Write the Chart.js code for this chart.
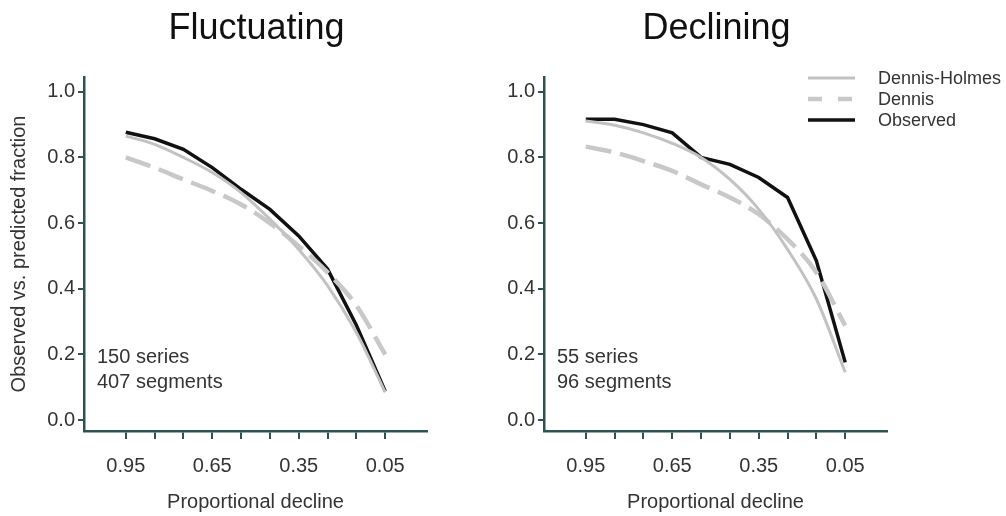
<!DOCTYPE html>
<html>
<head>
<meta charset="utf-8">
<script src="https://cdn.jsdelivr.net/npm/chart.js@4/dist/chart.umd.min.js"></script>
<style>
  body { margin: 0; background: #fff; }
  #wrap { position: relative; width: 1006px; height: 516px; }
  #leftBox { position: absolute; left: 0; top: 0; width: 470px; height: 516px; }
  #rightBox { position: absolute; left: 470px; top: 0; width: 536px; height: 516px; }
</style>
</head>
<body>
<div id="wrap">
  <div id="leftBox"><canvas id="fluctChart"></canvas></div>
  <div id="rightBox"><canvas id="declChart"></canvas></div>
</div>
<script>
// data
var declines = [0.95, 0.85, 0.75, 0.65, 0.55, 0.45, 0.35, 0.25, 0.15, 0.05];
var xLabels = [0.95, 0.65, 0.35, 0.05];
var yTicks = [0, 0.2, 0.4, 0.6, 0.8, 1.0];

var fluctHolmes   = [0.865, 0.84, 0.80, 0.754, 0.693, 0.612, 0.52, 0.41, 0.267, 0.085];
var fluctDennis   = [0.80, 0.769, 0.733, 0.698, 0.657, 0.60, 0.53, 0.45, 0.349, 0.20];
var fluctObserved = [0.877, 0.857, 0.825, 0.769, 0.703, 0.642, 0.561, 0.46, 0.289, 0.088];

var declHolmes   = [0.911, 0.898, 0.875, 0.843, 0.80, 0.733, 0.642, 0.52, 0.369, 0.146];
var declDennis   = [0.833, 0.815, 0.789, 0.759, 0.718, 0.678, 0.627, 0.551, 0.45, 0.288];
var declObserved = [0.916, 0.916, 0.90, 0.875, 0.80, 0.779, 0.739, 0.678, 0.485, 0.176];

var FONT = '"Liberation Sans", Arial, sans-serif';
var AXIS = '#2e5252';
var TXT = '#333333';

function pts(ys) {
    return declines.map(function(x, i) { return { x: x, y: ys[i] }; });
}

function makeDatasets(holmes, dennis, observed) {
    return [{
        label: 'Dennis-Holmes',
        data: pts(holmes),
        borderColor: '#c2c2c2',
        borderWidth: 3,
        cubicInterpolationMode: 'monotone',
        pointRadius: 0
    }, {
        label: 'Dennis',
        data: pts(dennis),
        borderColor: '#c8c8c8',
        borderWidth: 4.5,
        borderDash: [26, 9],
        cubicInterpolationMode: 'monotone',
        pointRadius: 0
    }, {
        label: 'Observed',
        data: pts(observed),
        borderColor: '#111111',
        borderWidth: 3.5,
        tension: 0,
        pointRadius: 0
    }];
}

// titles, notes and legend drawn on top
var textPlugin = {
    id: 'panelText',
    afterDraw: function(chart, args, opts) {
        var c = chart.ctx, a = chart.chartArea;
        c.save();
        c.fillStyle = '#111';
        c.font = '36px ' + FONT;
        c.textAlign = 'center';
        c.textBaseline = 'alphabetic';
        c.fillText(opts.title, (a.left + a.right) / 2 + 1, 39);

        c.fillStyle = TXT;
        c.font = '20px ' + FONT;
        c.textAlign = 'left';
        c.textBaseline = 'middle';
        c.fillText(opts.note1, a.left + 13, 357);
        c.fillText(opts.note2, a.left + 13, 382);

        if (opts.legend) {
            var x0 = 338, rows = [78, 99, 120];
            c.font = '18px ' + FONT;
            chart.data.datasets.forEach(function(ds, i) {
                c.beginPath();
                c.strokeStyle = ds.borderColor;
                c.lineWidth = ds.borderWidth;
                c.setLineDash(ds.borderDash ? [14, 16] : []);
                c.moveTo(x0, rows[i]);
                c.lineTo(x0 + 47, rows[i]);
                c.stroke();
                c.setLineDash([]);
                c.fillStyle = TXT;
                c.fillText(ds.label, x0 + 70, rows[i] + 1);
            });
        }
        c.restore();
    }
};

function makeChart(id, datasets, opts, yWidth, padRight) {
    return new Chart(document.getElementById(id).getContext('2d'), {
        type: 'line',
        data: { datasets: datasets },
        plugins: [textPlugin],
        options: {
            responsive: true,
            maintainAspectRatio: false,
            animation: false,
            layout: { padding: { top: 77, right: padRight, bottom: 0, left: 0 } },
            plugins: {
                legend: { display: false },
                tooltip: { enabled: false },
                panelText: opts
            },
            scales: {
                x: {
                    type: 'linear',
                    reverse: true,
                    min: -0.095,
                    max: 1.095,
                    afterBuildTicks: function(scale) {
                        scale.ticks = declines.map(function(v) { return { value: v }; });
                    },
                    afterFit: function(scale) { scale.height = 85; },
                    ticks: {
                        autoSkip: false,
                        maxRotation: 0,
                        padding: 15,
                        color: TXT,
                        font: { family: FONT, size: 20 },
                        callback: function(v) {
                            return xLabels.indexOf(v) >= 0 ? v.toFixed(2) : '';
                        }
                    },
                    grid: { drawOnChartArea: false, drawTicks: true, tickLength: 8, color: AXIS, lineWidth: 2 },
                    border: { color: AXIS, width: 2.5 },
                    title: {
                        display: true,
                        text: 'Proportional decline',
                        color: TXT,
                        font: { family: FONT, size: 20 },
                        padding: { top: 0, bottom: 2 }
                    }
                },
                y: {
                    min: -0.033,
                    max: 1.045,
                    afterBuildTicks: function(scale) {
                        scale.ticks = yTicks.map(function(v) { return { value: v }; });
                    },
                    afterFit: function(scale) { scale.width = yWidth; },
                    ticks: {
                        padding: 3,
                        color: TXT,
                        font: { family: FONT, size: 20 },
                        callback: function(v) { return v.toFixed(1); }
                    },
                    grid: { drawOnChartArea: false, drawTicks: true, tickLength: 6, color: AXIS, lineWidth: 2 },
                    border: { color: AXIS, width: 2.5 },
                    title: {
                        display: !!opts.yTitle,
                        text: opts.yTitle || '',
                        color: TXT,
                        font: { family: FONT, size: 20 },
                        padding: { top: 7, bottom: 0 }
                    }
                }
            }
        }
    });
}

var fluctChart = makeChart('fluctChart', makeDatasets(fluctHolmes, fluctDennis, fluctObserved), {
    title: 'Fluctuating', note1: '150 series', note2: '407 segments',
    yTitle: 'Observed vs. predicted fraction', legend: false
}, 84, 43);

var declChart = makeChart('declChart', makeDatasets(declHolmes, declDennis, declObserved), {
    title: 'Declining', note1: '55 series', note2: '96 segments',
    yTitle: '', legend: true
}, 74, 119);
</script>
</body>
</html>
